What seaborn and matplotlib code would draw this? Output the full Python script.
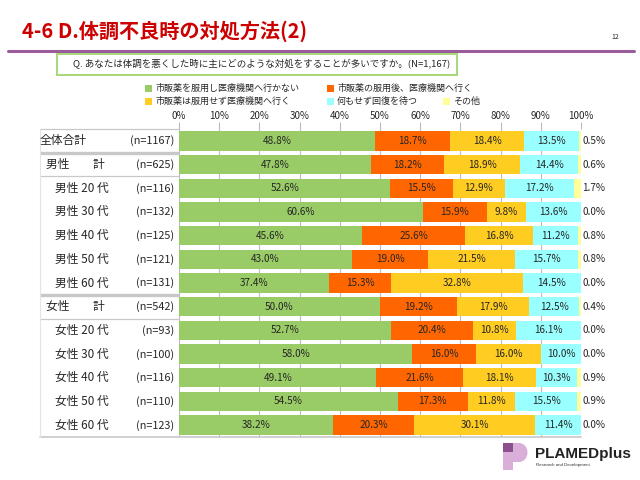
import seaborn as sns
import matplotlib.pyplot as plt
import matplotlib.patches as mpatches
import pandas as pd

# row labels / sample sizes
rows = ['全体合計', '男性　　計', '男性 20 代', '男性 30 代', '男性 40 代', '男性 50 代', '男性 60 代',
        '女性　　計', '女性 20 代', '女性 30 代', '女性 40 代', '女性 50 代', '女性 60 代']
n_sizes = [1167, 625, 116, 132, 125, 121, 131, 542, 93, 100, 116, 110, 123]

series = ['市販薬を服用し医療機関へ行かない', '市販薬の服用後、医療機関へ行く',
          '市販薬は服用せず医療機関へ行く', '何もせず回復を待つ', 'その他']
no_clinic = [48.8, 47.8, 52.6, 60.6, 45.6, 43.0, 37.4, 50.0, 52.7, 58.0, 49.1, 54.5, 38.2]
after_drug = [18.7, 18.2, 15.5, 15.9, 25.6, 19.0, 15.3, 19.2, 20.4, 16.0, 21.6, 17.3, 20.3]
clinic_only = [18.4, 18.9, 12.9, 9.8, 16.8, 21.5, 32.8, 17.9, 10.8, 16.0, 18.1, 11.8, 30.1]
wait = [13.5, 14.4, 17.2, 13.6, 11.2, 15.7, 14.5, 12.5, 16.1, 10.0, 10.3, 15.5, 11.4]
other = [0.5, 0.6, 1.7, 0.0, 0.8, 0.8, 0.0, 0.4, 0.0, 0.0, 0.9, 0.9, 0.0]
colors = ['#99CC66', '#FF6600', '#FFCC22', '#99FFFF', '#FFFF99']

df = pd.DataFrame({'row': rows, series[0]: no_clinic, series[1]: after_drug,
                   series[2]: clinic_only, series[3]: wait, series[4]: other})
cum = df[series].cumsum(axis=1)

sns.set_style('white')
plt.rcParams['font.family'] = ['Noto Sans CJK JP', 'DejaVu Sans']

W, H = 640, 480
fig = plt.figure(figsize=(6.4, 4.8), dpi=100)
ax = fig.add_axes([179 / W, 1 - 437 / H, 402 / W, 308 / H])
ax.set_axisbelow(True)

# stacked bars: draw cumulative totals from the outermost inwards
for i in range(len(series) - 1, -1, -1):
    sns.barplot(x=cum[series[i]].clip(upper=100), y=df['row'], orient='h', color=colors[i],
                saturation=1, width=0.82, ax=ax, linewidth=0)

ax.set_xlim(0, 100)
ax.set_ylim(12.5, -0.5)
ax.set_xlabel('')
ax.set_ylabel('')
ax.set_yticks([])
ax.set_yticks([k + 0.5 for k in range(12)], minor=True)
ax.tick_params(axis='y', which='minor', length=3, color='#c8c8c8', width=0.8)
ax.xaxis.tick_top()
ax.set_xticks(range(0, 101, 10))
ax.set_xticklabels([f'{t}%' for t in range(0, 101, 10)])
ax.tick_params(axis='x', length=5, color='#bbbbbb', width=0.8, labelsize=7, pad=1)
ax.grid(axis='x', color='#bbbbbb', linewidth=0.8)
for s in ax.spines.values():
    s.set_visible(False)

# value labels
for r in range(len(rows)):
    start = 0
    for i in range(4):
        v = df.loc[r, series[i]]
        ax.text(start + v / 2, r, f'{v:.1f}%', ha='center', va='center', fontsize=7.2)
        start += v
    ax.text(100.3, r, f"{df.loc[r, series[4]]:.1f}%", ha='left', va='center', fontsize=7.2)

# left-hand table
tr = ax.get_yaxis_transform()
def px(x):
    return (x - 179) / 402

for r, (lab, n) in enumerate(zip(rows, n_sizes)):
    if r == 0:
        x0 = 40
    elif lab.endswith('計'):
        x0 = 46
    else:
        x0 = 55
    ax.text(px(x0), r, lab, transform=tr, ha='left', va='center', fontsize=8.5)
    ax.text(px(174), r, f'(n={n})', transform=tr, ha='right', va='center', fontsize=7.8)

line_col = '#c8c8c8'
for yb, lw in [(-0.5, 0.9), (0.5, 2.4), (1.5, 0.9), (6.5, 2.4), (7.5, 0.9)]:
    ax.plot([px(40), 0], [yb, yb], transform=tr, color=line_col, lw=lw, clip_on=False,
            solid_capstyle='butt')
ax.plot([px(40), 1.0], [12.5, 12.5], transform=tr, color=line_col, lw=1.2, clip_on=False)
ax.plot([px(40), px(40)], [-0.5, 12.5], transform=tr, color='#e4e4e4', lw=0.8, clip_on=False)

# header
fig.text(22 / W, 1 - 31 / H, '4-6 D.体調不良時の対処方法(2)', color='#CC0000', fontsize=14.5,
         fontweight='bold', ha='left', va='center')
fig.text(615 / W, 1 - 37 / H, '12', fontsize=5, ha='center', va='center')
fig.add_artist(plt.Line2D([8 / W, 634 / W], [1 - 51 / H, 1 - 51 / H], color='#9B5C9B', lw=2.2))
fig.add_artist(mpatches.Rectangle((57 / W, 1 - 75 / H), (457 - 57) / W, 21 / H, transform=fig.transFigure,
                                  facecolor='white', edgecolor='#A8D878', lw=1.4))
fig.text(262 / W, 1 - 64.5 / H, 'Q. あなたは体調を悪くした時に主にどのような対処をすることが多いですか。(N=1,167)',
         fontsize=6.85, ha='center', va='center')

# legend
leg_pos = [(145, 88), (327, 88), (145, 101), (327, 101), (443, 101)]
for (lx, ly), c, lab in zip(leg_pos, colors, series):
    fig.add_artist(mpatches.Rectangle((lx / W, 1 - (ly + 3.5) / H), 7 / W, 7 / H,
                                      transform=fig.transFigure, facecolor=c, edgecolor='none'))
    fig.text((lx + 10) / W, 1 - ly / H, lab, fontsize=6.5, ha='left', va='center')

# logo
logo_light, logo_dark = '#D9AED9', '#8E4F8E'
fig.add_artist(mpatches.Ellipse((519 / W, 1 - 452.5 / H), 17 / W, 19 / H, transform=fig.transFigure,
                                facecolor=logo_light, edgecolor='none'))
fig.add_artist(mpatches.Rectangle((503 / W, 1 - 462 / H), 16 / W, 19 / H, transform=fig.transFigure,
                                  facecolor=logo_light, edgecolor='none'))
fig.add_artist(mpatches.Rectangle((503 / W, 1 - 470 / H), 10 / W, 10 / H, transform=fig.transFigure,
                                  facecolor=logo_light, edgecolor='none'))
fig.add_artist(mpatches.Rectangle((503 / W, 1 - 452 / H), 10 / W, 9 / H, transform=fig.transFigure,
                                  facecolor=logo_dark, edgecolor='none'))
fig.text(535 / W, 1 - 454 / H, 'PLAMEDplus', fontsize=11, fontweight='bold', color='#222222',
         family='Liberation Sans', ha='left', va='center')
fig.text(536 / W, 1 - 465 / H, 'Research and Development', fontsize=3.2, color='#333333',
         family='Liberation Sans', ha='left', va='center')

fig.savefig('out.png', dpi=100, facecolor='white')
